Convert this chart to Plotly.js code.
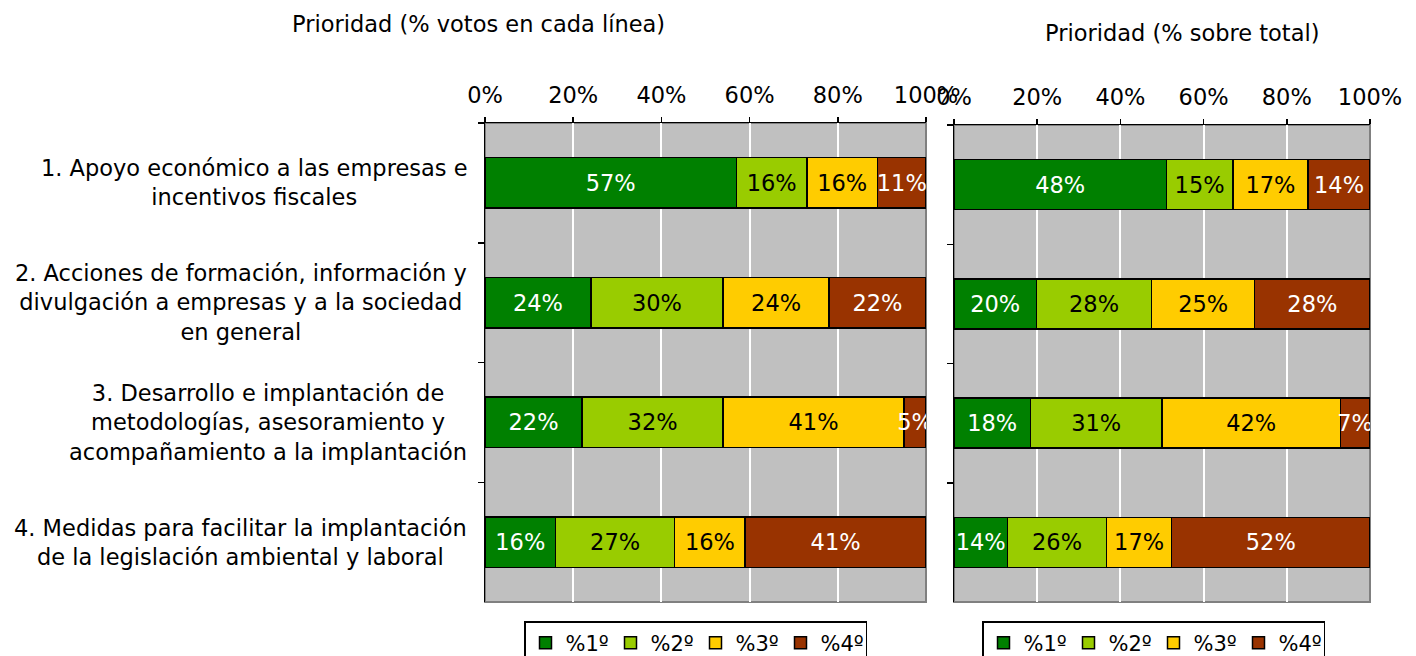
<!DOCTYPE html>
<html>
<head>
<meta charset="utf-8">
<script src="https://cdn.plot.ly/plotly-3.0.1.min.js"></script>
<style>
  body { margin: 0; background: #fff; }
  #chart { width: 1416px; height: 656px; }
</style>
</head>
<body>
<div id="chart"></div>
<script>
// categories (top to bottom)
var lineas = [
  "1. Apoyo económico a las empresas e<br>incentivos fiscales",
  "2. Acciones de formación, información y<br>divulgación a empresas y a la sociedad<br>en general",
  "3. Desarrollo e implantación de<br>metodologías, asesoramiento y<br>acompañamiento a la implantación",
  "4. Medidas para facilitar la implantación<br>de la legislación ambiental y laboral"
];
var series = ["%1º", "%2º", "%3º", "%4º"];
var colores = ["#008000", "#99CC00", "#FFCC00", "#993300"];
var colorTexto = ["#ffffff", "#000000", "#000000", "#ffffff"];

// % votos en cada línea (left)
var p1Linea = [57, 24, 22, 16];
var p2Linea = [16, 30, 32, 27];
var p3Linea = [16, 24, 41, 16];
var p4Linea = [11, 22, 5, 41];

// % sobre total (right)
var p1Total = [48, 20, 18, 14];
var p2Total = [15, 28, 31, 26];
var p3Total = [17, 25, 42, 17];
var p4Total = [14, 28, 7, 52];

var tickVals = [0, 20, 40, 60, 80, 100];
var tickText = ["0%", "20%", "40%", "60%", "80%", "100%"];

var FONT = "DejaVu Sans";

function makeBar(vals, i, xa, ya, leg) {
  return {
    type: "bar",
    orientation: "h",
    name: series[i],
    x: vals,
    y: lineas,
    xaxis: xa,
    yaxis: ya,
    legend: leg,
    width: 0.42,
    marker: { color: colores[i], line: { color: "#000", width: 1.5 } },
    text: vals.map(function (v) { return v + "%"; }),
    textposition: "inside",
    insidetextanchor: "middle",
    textangle: 0,
    constraintext: "none",
    textfont: { family: FONT, size: 22.5, color: colorTexto[i] },
    hoverinfo: "name+text"
  };
}

var left = [p1Linea, p2Linea, p3Linea, p4Linea];
var right = [p1Total, p2Total, p3Total, p4Total];
var data = [];
left.forEach(function (v, i) { data.push(makeBar(v, i, "x", "y", "legend")); });
right.forEach(function (v, i) { data.push(makeBar(v, i, "x2", "y2", "legend2")); });

function xAxis(dom, anchor) {
  return {
    domain: dom, anchor: anchor, side: "top", range: [0, 100],
    tickvals: tickVals, ticktext: tickText,
    ticks: "outside", ticklen: 5, tickcolor: "#000", tickwidth: 1.5,
    ticklabelstandoff: 5,
    showline: true, linecolor: "#000", linewidth: 1.5,
    showgrid: true, gridcolor: "#ffffff", gridwidth: 2,
    zeroline: false,
    tickfont: { family: FONT, size: 22.5, color: "#000" },
    fixedrange: true
  };
}
function yAxis(dom, anchor) {
  return {
    domain: dom, anchor: anchor, type: "category",
    categoryorder: "array", categoryarray: lineas,
    range: [3.5, -0.5],
    tickson: "boundaries", ticks: "outside", ticklen: 6, tickcolor: "#000", tickwidth: 1.5,
    showticklabels: false,
    showline: true, linecolor: "#000", linewidth: 1.5,
    showgrid: false, zeroline: false,
    fixedrange: true
  };
}

var annotations = [
  { xref: "paper", yref: "paper", x: 478 / 1416, y: 1 - 24 / 656, xanchor: "center", yanchor: "middle",
    text: "Prioridad (% votos en cada línea)",
    showarrow: false, font: { family: FONT, size: 22.5, color: "#000" } },
  { xref: "paper", yref: "paper", x: 1182 / 1416, y: 1 - 33 / 656, xanchor: "center", yanchor: "middle",
    text: "Prioridad (% sobre total)",
    showarrow: false, font: { family: FONT, size: 22.5, color: "#000" } }
];
lineas.forEach(function (c) {
  annotations.push({
    xref: "paper", yref: "y", x: 469 / 1416, y: c, text: c,
    xanchor: "right", align: "center", showarrow: false,
    font: { family: FONT, size: 22.5, color: "#000" }
  });
});

var legendBase = {
  orientation: "h", y: 1 - 621 / 656, xanchor: "left", yanchor: "top",
  bgcolor: "#fff", bordercolor: "#000", borderwidth: 1.5,
  entrywidth: 40, entrywidthmode: "pixels",
  font: { family: FONT, size: 21, color: "#000" }, traceorder: "normal"
};

var layout = {
  width: 1416, height: 656,
  margin: { l: 0, r: 0, t: 0, b: 0, autoexpand: false },
  paper_bgcolor: "#ffffff",
  plot_bgcolor: "#C0C0C0",
  barmode: "stack",
  barnorm: "percent",
  font: { family: FONT, size: 20, color: "#000" },
  xaxis: xAxis([485 / 1416, 926 / 1416], "y"),
  yaxis: yAxis([1 - 602 / 656, 1 - 123 / 656], "x"),
  xaxis2: xAxis([954 / 1416, 1370 / 1416], "y2"),
  yaxis2: yAxis([1 - 602 / 656, 1 - 125 / 656], "x2"),
  legend: Object.assign({}, legendBase, { x: 524 / 1416 }),
  legend2: Object.assign({}, legendBase, { x: 982 / 1416 }),
  shapes: [
    { type: "rect", xref: "x domain", yref: "y domain", x0: 0, x1: 1, y0: 0, y1: 1,
      line: { color: "#808080", width: 2 }, layer: "below" },
    { type: "rect", xref: "x2 domain", yref: "y2 domain", x0: 0, x1: 1, y0: 0, y1: 1,
      line: { color: "#808080", width: 2 }, layer: "below" }
  ],
  annotations: annotations
};

Plotly.newPlot("chart", data, layout, { displayModeBar: false, staticPlot: true });
</script>
</body>
</html>
